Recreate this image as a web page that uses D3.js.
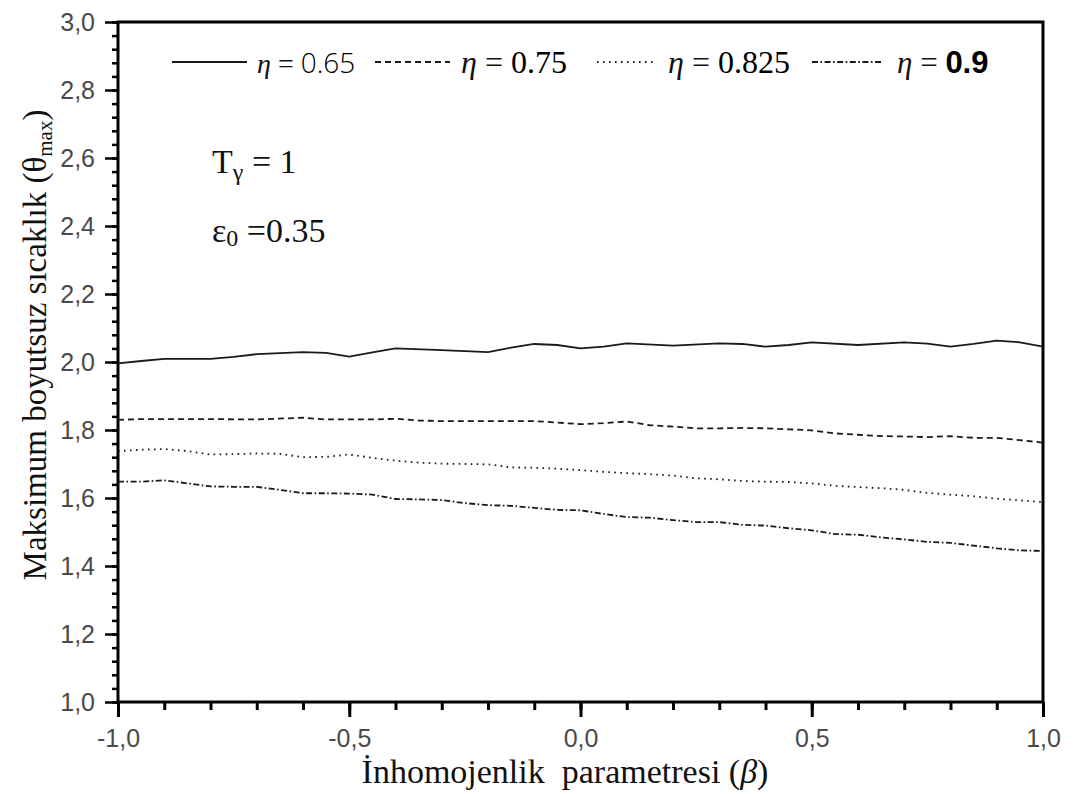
<!DOCTYPE html>
<html>
<head>
<meta charset="utf-8">
<script src="https://cdn.jsdelivr.net/npm/d3@7"></script>
<style>
  body { margin: 0; background: #fff; }
  svg { display: block; }
  .tick text { font-family: "Liberation Sans", Arial, sans-serif; font-size: 25px; fill: #4a4a4a; }
  .serif { font-family: "Liberation Serif", "Times New Roman", serif; fill: #111; }
</style>
</head>
<body>
<div id="chart"></div>
<script>
// values
var betaSolid = [-1.0, -0.95, -0.9, -0.8, -0.75, -0.7, -0.6, -0.55, -0.5, -0.45, -0.4, -0.3, -0.2, -0.15, -0.1, -0.05, 0.0, 0.05, 0.1, 0.2, 0.3, 0.35, 0.4, 0.45, 0.5, 0.6, 0.7, 0.75, 0.8, 0.85, 0.9, 0.95, 1.0];
var theta065 = [1.996, 2.003, 2.009, 2.009, 2.015, 2.023, 2.029, 2.027, 2.016, 2.028, 2.040, 2.035, 2.029, 2.042, 2.053, 2.050, 2.040, 2.045, 2.055, 2.048, 2.055, 2.053, 2.045, 2.050, 2.058, 2.050, 2.058, 2.054, 2.045, 2.053, 2.063, 2.058, 2.045];

var betaDash = [-1.0, -0.95, -0.9, -0.8, -0.7, -0.6, -0.55, -0.5, -0.45, -0.4, -0.35, -0.3, -0.2, -0.1, -0.05, 0.0, 0.05, 0.1, 0.15, 0.2, 0.25, 0.3, 0.35, 0.4, 0.45, 0.5, 0.55, 0.6, 0.65, 0.7, 0.75, 0.8, 0.85, 0.9, 0.95, 1.0];
var theta075 = [1.830, 1.832, 1.832, 1.832, 1.831, 1.836, 1.831, 1.831, 1.831, 1.833, 1.828, 1.826, 1.826, 1.826, 1.822, 1.817, 1.820, 1.825, 1.814, 1.810, 1.805, 1.805, 1.806, 1.805, 1.802, 1.799, 1.790, 1.786, 1.782, 1.781, 1.779, 1.782, 1.777, 1.777, 1.770, 1.763];

var betaFine = [-1.0, -0.95, -0.9, -0.85, -0.8, -0.75, -0.7, -0.65, -0.6, -0.55, -0.5, -0.45, -0.4, -0.35, -0.3, -0.25, -0.2, -0.15, -0.1, -0.05, 0.0, 0.05, 0.1, 0.15, 0.2, 0.25, 0.3, 0.35, 0.4, 0.45, 0.5, 0.55, 0.6, 0.65, 0.7, 0.75, 0.8, 0.85, 0.9, 0.95, 1.0];
var theta0825 = [1.738, 1.742, 1.744, 1.738, 1.728, 1.729, 1.731, 1.730, 1.720, 1.721, 1.728, 1.718, 1.710, 1.704, 1.701, 1.700, 1.699, 1.690, 1.689, 1.686, 1.682, 1.677, 1.673, 1.670, 1.666, 1.658, 1.655, 1.650, 1.648, 1.647, 1.643, 1.636, 1.632, 1.629, 1.624, 1.615, 1.610, 1.605, 1.598, 1.593, 1.588];
var theta09 = [1.648, 1.648, 1.652, 1.643, 1.634, 1.633, 1.633, 1.624, 1.614, 1.614, 1.613, 1.610, 1.597, 1.596, 1.594, 1.585, 1.579, 1.577, 1.571, 1.565, 1.564, 1.553, 1.544, 1.542, 1.535, 1.529, 1.529, 1.521, 1.519, 1.511, 1.505, 1.494, 1.492, 1.484, 1.478, 1.471, 1.468, 1.460, 1.452, 1.446, 1.444];

var etaLabels = ["0.65", "0.75", "0.825", "0.9"];
var xTicks = [-1.0, -0.5, 0.0, 0.5, 1.0];
var yTicks = [1.0, 1.2, 1.4, 1.6, 1.8, 2.0, 2.2, 2.4, 2.6, 2.8, 3.0];

var series = [
  { beta: betaSolid, theta: theta065, dash: null, label: etaLabels[0], font: "'Open Sans', sans-serif", weight: 300, size: 28, lx: 172, lw: 75, tx: 257 },
  { beta: betaDash, theta: theta075, dash: "6,4", label: etaLabels[1], font: "'Liberation Serif', serif", weight: "normal", size: 32, lx: 375, lw: 75, tx: 461 },
  { beta: betaFine, theta: theta0825, dash: "1.6,4.4", label: etaLabels[2], font: "'Liberation Serif', serif", weight: "normal", size: 32, lx: 597, lw: 60, tx: 668 },
  { beta: betaFine, theta: theta09, dash: "6,2.5,1.6,2.5", label: etaLabels[3], font: "'Liberation Sans', Arial, sans-serif", weight: "bold", size: 31, lx: 812, lw: 70, tx: 897 }
];

var W = 1074, H = 794;
var margin = { top: 22, right: 31, bottom: 92, left: 118 };
var w = W - margin.left - margin.right, h = H - margin.top - margin.bottom;

var svg = d3.select("#chart").append("svg").attr("width", W).attr("height", H);
var g = svg.append("g").attr("transform", "translate(" + margin.left + "," + margin.top + ")");

var x = d3.scaleLinear().domain([-1, 1]).range([0, w]);
var y = d3.scaleLinear().domain([1, 3]).range([h, 0]);

var fmt = function (d) { return d3.format(".1f")(d).replace(".", ",").replace("−", "-"); };

// minor ticks first
g.append("g").attr("transform", "translate(0," + h + ")")
  .call(d3.axisBottom(x).tickValues(d3.range(-10, 11).map(function (i) { return i / 10; })).tickSize(8).tickFormat(""))
  .call(function (a) { a.select(".domain").remove(); a.selectAll("line").attr("stroke", "#000").attr("stroke-width", 3); });
g.append("g")
  .call(d3.axisLeft(y).tickValues(d3.range(0, 51).map(function (i) { return 1 + i * 0.04; })).tickSize(6).tickFormat(""))
  .call(function (a) { a.select(".domain").remove(); a.selectAll("line").attr("stroke", "#000").attr("stroke-width", 2.5); });

// major ticks with labels
var xAxis = g.append("g").attr("transform", "translate(0," + h + ")")
  .call(d3.axisBottom(x).tickValues(xTicks).tickSize(15).tickPadding(12).tickFormat(fmt));
xAxis.select(".domain").remove();
xAxis.selectAll("line").attr("stroke", "#000").attr("stroke-width", 3);

var yAxis = g.append("g")
  .call(d3.axisLeft(y).tickValues(yTicks).tickSize(13).tickPadding(10).tickFormat(fmt));
yAxis.select(".domain").remove();
yAxis.selectAll("line").attr("stroke", "#000").attr("stroke-width", 2.5);

// frame
g.append("rect").attr("width", w).attr("height", h)
  .attr("fill", "none").attr("stroke", "#000").attr("stroke-width", 3);

// curves
var line = d3.line().x(function (d) { return x(d[0]); }).y(function (d) { return y(d[1]); });
series.forEach(function (s) {
  g.append("path")
    .datum(s.beta.map(function (b, i) { return [b, s.theta[i]]; }))
    .attr("d", line)
    .attr("fill", "none")
    .attr("stroke", "#1a1a1a")
    .attr("stroke-width", 1.8)
    .attr("stroke-dasharray", s.dash);
});

// legend
var ly = 62;
series.forEach(function (s) {
  svg.append("line")
    .attr("x1", s.lx).attr("x2", s.lx + s.lw).attr("y1", ly).attr("y2", ly)
    .attr("stroke", "#1a1a1a").attr("stroke-width", 1.8).attr("stroke-dasharray", s.dash);
  var t = svg.append("text").attr("class", "serif").attr("x", s.tx).attr("y", ly + 11).attr("font-size", s.size);
  t.append("tspan").attr("font-style", "italic").text("η");
  t.append("tspan").text(" = ");
  t.append("tspan").attr("font-family", s.font).attr("font-weight", s.weight).attr("fill", "#000").text(s.label);
});

// annotations
var t1 = svg.append("text").attr("class", "serif").attr("x", 212).attr("y", 173).attr("font-size", 34);
t1.append("tspan").text("T");
t1.append("tspan").attr("font-size", 24).attr("dy", 7).text("γ");
t1.append("tspan").attr("dy", -7).text(" = 1");

var t2 = svg.append("text").attr("class", "serif").attr("x", 212).attr("y", 242).attr("font-size", 34);
t2.append("tspan").text("ε");
t2.append("tspan").attr("font-size", 24).attr("dy", 4).text("0");
t2.append("tspan").attr("dy", -4).text(" =0.35");

// axis titles
var xt = svg.append("text").attr("class", "serif").attr("x", 565).attr("y", 783)
  .attr("text-anchor", "middle").attr("font-size", 34);
xt.append("tspan").text("İnhomojenlik\u00a0\u00a0parametresi (");
xt.append("tspan").attr("font-style", "italic").text("β");
xt.append("tspan").text(")");

var yt = svg.append("text").attr("class", "serif")
  .attr("transform", "translate(46,345) rotate(-90)")
  .attr("text-anchor", "middle").attr("font-size", 33);
yt.append("tspan").text("Maksimum boyutsuz sıcaklık (θ");
yt.append("tspan").attr("font-size", 21).attr("dy", 6).text("max");
yt.append("tspan").attr("dy", -6).text(")");
</script>
</body>
</html>
